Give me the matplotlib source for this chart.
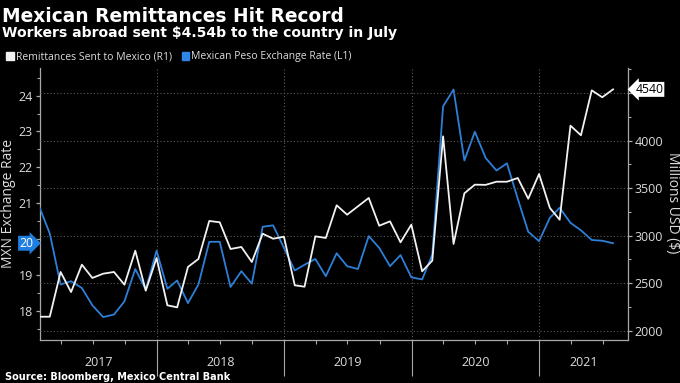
import matplotlib
matplotlib.use("Agg")
import matplotlib.pyplot as plt
import matplotlib.dates as mdates
import pandas as pd
from matplotlib.patches import Patch
from matplotlib.ticker import MultipleLocator, FixedLocator, NullFormatter

# month-end dates, Jan 2017 .. Jul 2021
months = pd.date_range("2017-02-01", periods=55, freq="MS") - pd.Timedelta(days=1)

# Mexican peso exchange rate (MXN per USD), left axis
peso = [20.85, 20.15, 18.73, 18.82, 18.63, 18.15, 17.82, 17.89, 18.26, 19.16, 18.59, 19.67,
        18.61, 18.84, 18.21, 18.73, 19.92, 19.92, 18.66, 19.10, 18.75, 20.34, 20.38, 19.75,
        19.12, 19.28, 19.44, 18.96, 19.60, 19.24, 19.16, 20.08, 19.75, 19.24, 19.55, 18.93,
        18.87, 19.56, 23.70, 24.17, 22.19, 22.99, 22.26, 21.91, 22.11, 21.12, 20.20, 19.94,
        20.59, 20.87, 20.45, 20.24, 19.97, 19.95, 19.88]

# remittances sent to Mexico (millions USD), right axis
remit = [2147, 2147, 2618, 2407, 2695, 2555, 2600, 2618, 2484, 2842, 2421, 2765,
         2267, 2246, 2671, 2755, 3155, 3141, 2860, 2881, 2723, 3021, 2968, 2989,
         2478, 2463, 2993, 2976, 3320, 3221, 3309, 3397, 3105, 3151, 2930, 3116,
         2625, 2737, 4046, 2913, 3446, 3537, 3535, 3568, 3568, 3607, 3389, 3649,
         3292, 3168, 4158, 4057, 4530, 4457, 4540]

years = [2017, 2018, 2019, 2020, 2021]

bg = "black"
fg = "#dcdcdc"
axis_col = "#a8a8a8"
grid_col = "#5a5a5a"
white_line = "#f2f2f2"
blue_line = "#2d7fd8"

plt.rcParams["font.family"] = ["Open Sans", "DejaVu Sans"]

fig = plt.figure(figsize=(6.8, 3.83), dpi=100, facecolor=bg)
ax = fig.add_axes([40 / 680, 43 / 383, 587.7 / 680, 272 / 383])
ax.set_facecolor(bg)
ax2 = ax.twinx()
ax2.patch.set_visible(False)

ax.plot(months, peso, color=blue_line, lw=1.3, zorder=3)
ax2.plot(months, remit, color=white_line, lw=1.3, zorder=3)

x0 = pd.Timestamp("2017-01-31")
x1 = pd.Timestamp("2021-09-11")
ax.set_xlim(x0, x1)
ax.set_ylim(17.18, 24.77)
ax2.set_ylim(1902, 4765)

# spines
for a in (ax, ax2):
    for s in a.spines.values():
        s.set_visible(False)
ax.spines["left"].set_visible(True)
ax.spines["bottom"].set_visible(True)
ax2.spines["right"].set_visible(True)
for s in (ax.spines["left"], ax.spines["bottom"], ax2.spines["right"]):
    s.set_color(axis_col)
    s.set_linewidth(0.9)

# left axis (the 20 label sits under the last-value badge)
ax.yaxis.set_major_locator(FixedLocator([18, 19, 20, 21, 22, 23, 24]))
ax.set_yticklabels(["18", "19", "", "21", "22", "23", "24"])
ax.yaxis.set_minor_locator(MultipleLocator(0.5))
ax.tick_params(axis="y", which="major", colors=axis_col, labelcolor=fg, labelsize=9,
               length=3, width=0.9, pad=2)
ax.tick_params(axis="y", which="minor", colors=axis_col, length=2, width=0.8)

# right axis
ax2.yaxis.set_major_locator(FixedLocator([2000, 2500, 3000, 3500, 4000, 4500]))
ax2.set_yticklabels(["2000", "2500", "3000", "3500", "4000", ""])
ax2.yaxis.set_minor_locator(MultipleLocator(250))
ax2.tick_params(axis="y", which="major", colors=axis_col, labelcolor=fg, labelsize=9,
                length=3, width=0.9, pad=2)
ax2.tick_params(axis="y", which="minor", colors=axis_col, length=2, width=0.8)
ax2.yaxis.grid(True, color=grid_col, linestyle=(0, (1, 2)), linewidth=0.8)

# x axis: year separators (long ticks) and quarter ticks
year_starts = [pd.Timestamp(f"{y}-01-01") for y in years[1:]]
quarters = [pd.Timestamp(f"{y}-{m:02d}-01") for y in years for m in (4, 7, 10)]
quarters = [q for q in quarters if q < x1]
ax.xaxis.set_major_locator(FixedLocator(mdates.date2num(year_starts)))
ax.xaxis.set_minor_locator(FixedLocator(mdates.date2num(quarters)))
ax.xaxis.set_major_formatter(NullFormatter())
ax.tick_params(axis="x", which="major", colors=axis_col, length=26, width=0.8)
ax.tick_params(axis="x", which="minor", colors=axis_col, length=3, width=0.8)
ax.xaxis.grid(True, which="major", color=grid_col, linestyle=(0, (1, 2)), linewidth=0.8)

# year labels centred in the visible part of each year
for y in years:
    a = max(pd.Timestamp(f"{y}-01-01"), x0)
    b = min(pd.Timestamp(f"{y + 1}-01-01"), x1)
    mid = a + (b - a) / 2
    ax.text(mid, -0.082, str(y), transform=ax.get_xaxis_transform(), ha="center",
            va="center", color=fg, fontsize=9)

# axis labels
fig.text(9 / 680, 1 - 203 / 383, "MXN Exchange Rate", rotation=90, ha="center",
         va="center", color=fg, fontsize=10)
fig.text(672 / 680, 1 - 203 / 383, "Millions USD ($)", rotation=270, ha="center",
         va="center", color=fg, fontsize=10)

# last value badges
ax2.annotate("4540", xy=(1, remit[-1]), xycoords=("axes fraction", "data"),
             xytext=(5.5, 0), textcoords="offset points", ha="left", va="center",
             color="black", fontsize=8.8,
             bbox=dict(boxstyle="larrow,pad=0.08", fc="white", ec="none"))
ax.annotate("20", xy=(0, peso[-1]), xycoords=("axes fraction", "data"),
            xytext=(-5, 0), textcoords="offset points", ha="right", va="center",
            color="white", fontsize=8.8,
            bbox=dict(boxstyle="rarrow,pad=0.08", fc="#1f7fe0", ec="none"))

# titles
fig.text(2 / 680, 1 - 22 / 383, "Mexican Remittances Hit Record", ha="left",
         va="baseline", color="white", fontsize=13.4, fontweight="bold",
         family="DejaVu Sans")
fig.text(2 / 680, 1 - 37.5 / 383, "Workers abroad sent $4.54b to the country in July",
         ha="left", va="baseline", color="white", fontsize=10.1, fontweight="bold",
         family="DejaVu Sans")

# legend
handles = [Patch(color=white_line), Patch(color="#2f86e6")]
labels = ["Remittances Sent to Mexico (R1)", "Mexican Peso Exchange Rate (L1)"]
fig.legend(handles, labels, loc="center left", bbox_to_anchor=(0.0, 1 - 57 / 383),
           ncol=2, frameon=False, handlelength=0.7, handleheight=0.7,
           handletextpad=0.25, columnspacing=0.9, fontsize=7.5, labelcolor=fg,
           borderaxespad=0.2)

fig.text(5 / 680, 6 / 383, "Source: Bloomberg, Mexico Central Bank", ha="left",
         va="center", color="white", fontsize=7, fontweight="bold", family="DejaVu Sans")

fig.savefig("out.png", dpi=100, facecolor=bg)
